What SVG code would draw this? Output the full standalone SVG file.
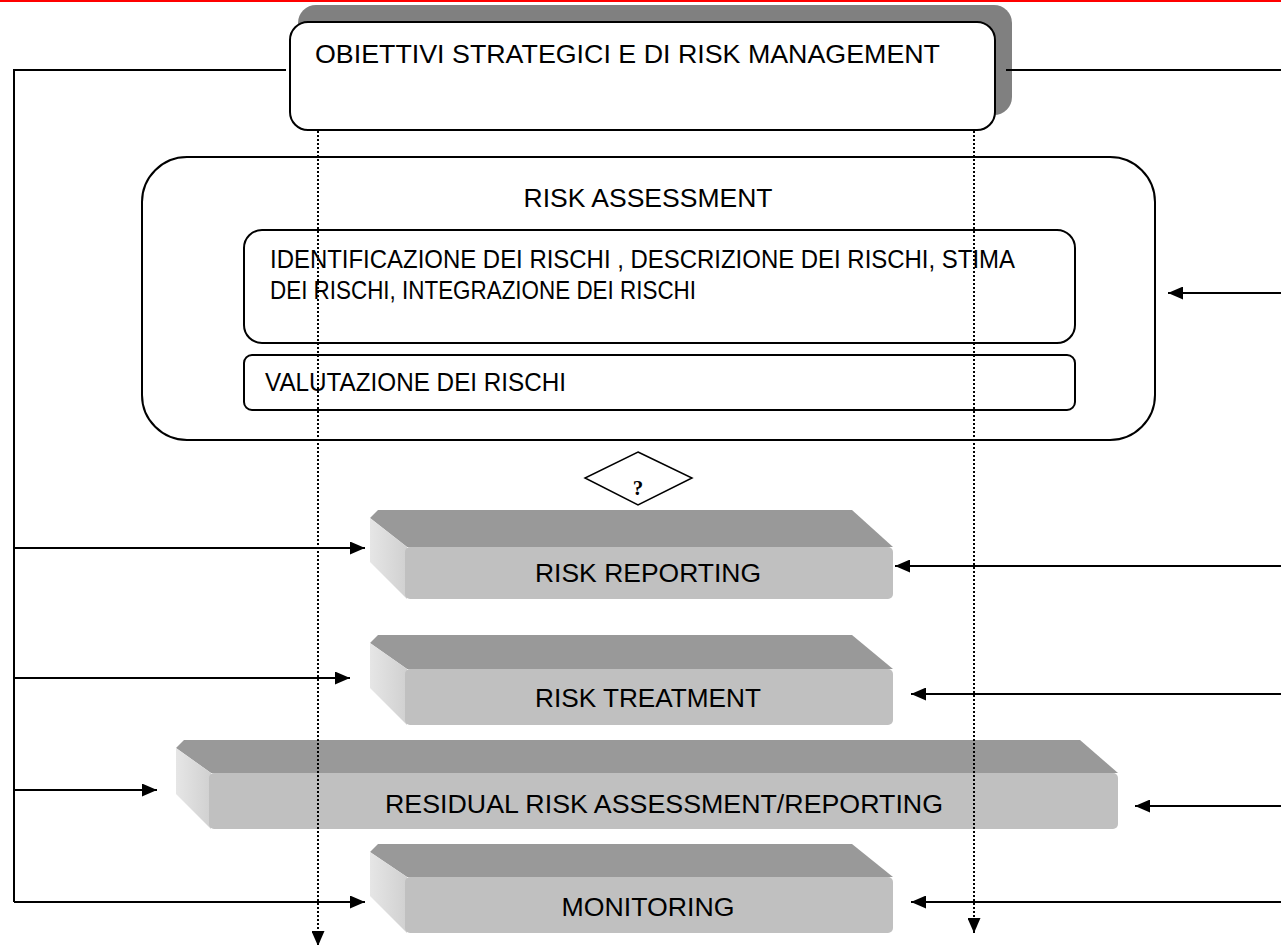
<svg xmlns="http://www.w3.org/2000/svg" width="1281" height="945" viewBox="0 0 1281 945">
<defs>
<style>
.t{font-family:"Liberation Sans",Arial,sans-serif;font-size:25px;fill:#000}
.ln{stroke:#000;stroke-width:2;fill:none}
.dot{stroke:#000;stroke-width:2;stroke-dasharray:2 2;fill:none}
.box{fill:#fff;stroke:#000;stroke-width:2}
.top{fill:#999}
.side{fill:url(#sideg)}
.front{fill:#c0c0c0}
</style>
<linearGradient id="sideg" x1="0" y1="0" x2="1" y2="0">
<stop offset="0" stop-color="#e6e6e6"/>
<stop offset="1" stop-color="#d0d0d0"/>
</linearGradient>
<marker id="ah" viewBox="0 0 10 10" refX="10" refY="5" markerWidth="15" markerHeight="13" markerUnits="userSpaceOnUse" orient="auto" preserveAspectRatio="none">
<path d="M0,0 L10,5 L0,10 z" fill="#000"/>
</marker>
</defs>
<rect x="0" y="0" width="1281" height="2" fill="#f00"/>

<g id="obiettivi">
<rect x="298" y="5" width="714" height="110" rx="18" fill="#808080"/>
<rect class="box" x="290" y="22" width="705" height="108" rx="18"/>
<text class="t" x="315" y="63" textLength="625" lengthAdjust="spacingAndGlyphs">OBIETTIVI STRATEGICI E DI RISK MANAGEMENT</text>
</g>

<g id="risk-assessment">
<rect class="box" x="142" y="157" width="1013" height="283" rx="45"/>
<text class="t" x="648" y="207" text-anchor="middle" textLength="249" lengthAdjust="spacingAndGlyphs">RISK ASSESSMENT</text>
<rect class="box" x="244" y="230" width="831" height="113" rx="18"/>
<text class="t" x="270" y="268" textLength="745" lengthAdjust="spacingAndGlyphs">IDENTIFICAZIONE DEI RISCHI , DESCRIZIONE DEI RISCHI, STIMA</text>
<text class="t" x="270" y="299" textLength="426" lengthAdjust="spacingAndGlyphs">DEI RISCHI, INTEGRAZIONE DEI RISCHI</text>
<rect class="box" x="244" y="355" width="831" height="55" rx="8"/>
<text class="t" x="265" y="391" textLength="301" lengthAdjust="spacingAndGlyphs">VALUTAZIONE DEI RISCHI</text>
</g>

<g id="decision">
<polygon points="638,452 692,478 638,505 585,478" fill="#fff" stroke="#000" stroke-width="1.5"/>
<text x="638" y="495" text-anchor="middle" font-family="Liberation Serif,serif" font-weight="bold" font-size="21">?</text>
</g>

<g id="risk-reporting">
<polygon class="top" points="378,510 852,510 893,547 407,547 370,518"/>
<polygon class="side" points="370,518 407,547 407,599 370,562"/>
<rect class="front" x="405" y="547" width="488" height="52" rx="5"/>
<text class="t" x="648" y="582" text-anchor="middle" textLength="226" lengthAdjust="spacingAndGlyphs">RISK REPORTING</text>
</g>

<g id="risk-treatment">
<polygon class="top" points="378,635 852,635 893,669 407,669 370,643"/>
<polygon class="side" points="370,643 407,669 407,725 370,688"/>
<rect class="front" x="405" y="669" width="488" height="56" rx="5"/>
<text class="t" x="648" y="707" text-anchor="middle" textLength="226" lengthAdjust="spacingAndGlyphs">RISK TREATMENT</text>
</g>

<g id="residual">
<polygon class="top" points="184,740 1080,740 1118,773 211,773 176,748"/>
<polygon class="side" points="176,748 211,773 211,829 176,794"/>
<rect class="front" x="209" y="773" width="909" height="56" rx="5"/>
<text class="t" x="664" y="813" text-anchor="middle" textLength="558" lengthAdjust="spacingAndGlyphs">RESIDUAL RISK ASSESSMENT/REPORTING</text>
</g>

<g id="monitoring">
<polygon class="top" points="378,844 852,844 893,877 407,877 370,852"/>
<polygon class="side" points="370,852 407,877 407,933 370,896"/>
<rect class="front" x="405" y="877" width="488" height="56" rx="5"/>
<text class="t" x="648" y="916" text-anchor="middle" textLength="173" lengthAdjust="spacingAndGlyphs">MONITORING</text>
</g>

<g id="connectors">
<polyline class="ln" points="286,70 14,70 14,902"/>
<line class="ln" x1="1006" y1="70" x2="1281" y2="70"/>
<line class="ln" x1="14" y1="548" x2="365" y2="548" marker-end="url(#ah)"/>
<line class="ln" x1="14" y1="678" x2="350" y2="678" marker-end="url(#ah)"/>
<line class="ln" x1="14" y1="790" x2="157" y2="790" marker-end="url(#ah)"/>
<line class="ln" x1="14" y1="902" x2="365" y2="902" marker-end="url(#ah)"/>
<line class="ln" x1="1281" y1="293" x2="1168" y2="293" marker-end="url(#ah)"/>
<line class="ln" x1="1281" y1="566" x2="895" y2="566" marker-end="url(#ah)"/>
<line class="ln" x1="1281" y1="694" x2="911" y2="694" marker-end="url(#ah)"/>
<line class="ln" x1="1281" y1="806" x2="1135" y2="806" marker-end="url(#ah)"/>
<line class="ln" x1="1281" y1="902" x2="911" y2="902" marker-end="url(#ah)"/>
<line class="dot" x1="318" y1="131" x2="318" y2="946" marker-end="url(#ah)"/>
<line class="dot" x1="974" y1="131" x2="974" y2="933" marker-end="url(#ah)"/>
</g>
</svg>
